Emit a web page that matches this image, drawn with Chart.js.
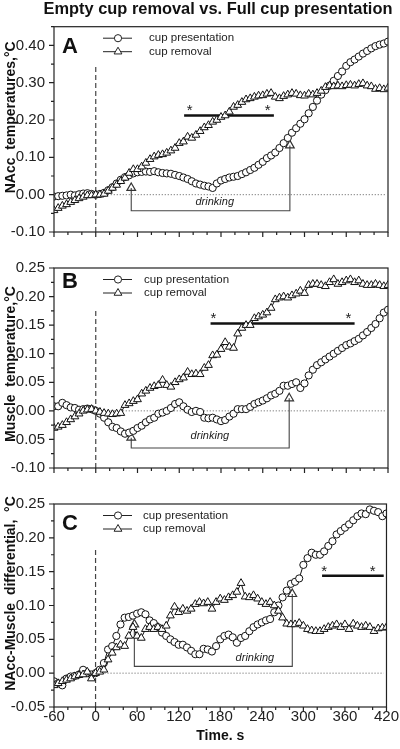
<!DOCTYPE html>
<html>
<head>
<meta charset="utf-8">
<script src="https://cdn.jsdelivr.net/npm/chart.js@4.4.1/dist/chart.umd.min.js"></script>
<style>
  html, body { margin: 0; padding: 0; background: #fff; }
  #wrap { position: relative; width: 400px; height: 749px; }
  canvas { position: absolute; left: 0; }
</style>
</head>
<body>
<div id="wrap">
  <canvas id="panelA" width="400" height="250" style="top:0px"></canvas>
  <canvas id="panelB" width="400" height="236" style="top:250px"></canvas>
  <canvas id="panelC" width="400" height="263" style="top:486px"></canvas>
</div>
<script>
// time bins, s
const times = [-60,-54,-48,-42,-36,-30,-24,-18,-12,-6,
  0,6,12,18,24,30,36,42,48,54,
  60,66,72,78,84,90,96,102,108,114,
  120,126,132,138,144,150,156,162,168,174,
  180,186,192,198,204,210,216,222,228,234,
  240,246,252,258,264,270,276,282,288,294,
  300,306,312,318,324,330,336,342,348,354,
  360,366,372,378,384,390,396,402,408,414,
  420];

// A: NAcc temperature
const presA = [-0.005,-0.004,-0.003,-0.002,0.000,-0.002,0.001,0.003,0.004,0.002,
  0.000,0.002,0.005,0.012,0.020,0.030,0.040,0.047,0.052,0.057,
  0.060,0.061,0.062,0.061,0.063,0.060,0.058,0.057,0.056,0.053,
  0.050,0.046,0.042,0.036,0.030,0.027,0.024,0.022,0.018,0.030,
  0.038,0.042,0.046,0.048,0.050,0.055,0.060,0.066,0.072,0.080,
  0.088,0.098,0.105,0.113,0.125,0.138,0.152,0.166,0.178,0.190,
  0.202,0.218,0.235,0.252,0.268,0.280,0.292,0.305,0.318,0.330,
  0.345,0.355,0.362,0.370,0.378,0.385,0.392,0.398,0.402,0.405,
  0.410];
const remA = [-0.042,-0.036,-0.030,-0.026,-0.020,-0.015,-0.010,-0.006,-0.002,-0.002,
  0.000,0.000,0.002,0.010,0.018,0.026,0.036,0.045,0.058,0.068,
  0.068,0.075,0.085,0.095,0.102,0.106,0.108,0.112,0.118,0.125,
  0.138,0.142,0.155,0.152,0.160,0.170,0.180,0.186,0.195,0.200,
  0.208,0.212,0.222,0.235,0.240,0.248,0.255,0.258,0.262,0.265,
  0.266,0.270,0.272,0.262,0.258,0.264,0.268,0.272,0.270,0.266,
  0.265,0.270,0.268,0.272,0.278,0.288,0.292,0.290,0.292,0.290,
  0.293,0.294,0.292,0.296,0.298,0.292,0.290,0.283,0.285,0.282,
  0.286];

// B: muscle temperature
const presB = [0.008,0.008,0.014,0.010,0.006,0.005,0.002,0.003,0.004,0.003,
  0.000,-0.005,-0.012,-0.020,-0.028,-0.030,-0.036,-0.040,-0.038,-0.035,
  -0.030,-0.026,-0.020,-0.015,-0.012,-0.005,-0.003,0.000,0.005,0.012,
  0.015,0.008,0.002,-0.002,0.000,-0.002,-0.012,-0.013,-0.012,-0.015,
  -0.018,-0.016,-0.010,-0.005,0.003,0.003,0.003,0.007,0.012,0.015,
  0.018,0.022,0.027,0.030,0.035,0.044,0.044,0.047,0.050,0.040,
  0.048,0.062,0.072,0.080,0.085,0.090,0.095,0.100,0.105,0.110,
  0.115,0.118,0.122,0.126,0.132,0.138,0.145,0.152,0.162,0.172,
  0.177];
const remB = [-0.030,-0.028,-0.025,-0.020,-0.015,-0.010,-0.005,0.000,0.002,0.003,
  0.000,-0.002,-0.004,-0.005,-0.006,-0.005,-0.004,0.010,0.013,0.017,
  0.020,0.030,0.035,0.040,0.043,0.045,0.054,0.045,0.042,0.050,
  0.055,0.058,0.068,0.064,0.065,0.064,0.075,0.080,0.097,0.098,
  0.108,0.120,0.112,0.110,0.135,0.145,0.150,0.150,0.162,0.165,
  0.168,0.172,0.180,0.195,0.198,0.200,0.198,0.202,0.205,0.210,
  0.206,0.220,0.222,0.222,0.220,0.218,0.225,0.230,0.222,0.225,
  0.228,0.230,0.225,0.228,0.222,0.220,0.220,0.222,0.220,0.218,
  0.220];

// C: NAcc-muscle differential
const presC = [-0.012,-0.015,-0.018,-0.008,-0.005,-0.004,-0.002,0.005,0.000,-0.002,
  0.000,0.005,0.015,0.035,0.040,0.055,0.072,0.082,0.083,0.085,
  0.088,0.090,0.087,0.078,0.074,0.068,0.060,0.055,0.050,0.046,
  0.042,0.042,0.038,0.033,0.028,0.028,0.036,0.035,0.032,0.040,
  0.050,0.055,0.057,0.053,0.045,0.052,0.055,0.062,0.068,0.072,
  0.075,0.078,0.080,0.090,0.100,0.112,0.122,0.132,0.135,0.140,
  0.160,0.170,0.178,0.175,0.175,0.180,0.188,0.195,0.205,0.210,
  0.215,0.220,0.226,0.232,0.236,0.235,0.242,0.240,0.238,0.232,
  0.236];
const remC = [-0.018,-0.015,-0.012,-0.010,-0.008,-0.005,-0.003,-0.002,0.002,-0.008,
  0.000,0.002,0.005,0.020,0.030,0.038,0.042,0.040,0.055,0.068,
  0.055,0.052,0.065,0.068,0.065,0.068,0.065,0.070,0.085,0.098,
  0.090,0.095,0.092,0.095,0.102,0.105,0.103,0.105,0.095,0.105,
  0.110,0.108,0.112,0.115,0.120,0.133,0.113,0.112,0.115,0.110,
  0.105,0.102,0.105,0.100,0.092,0.082,0.073,0.072,0.072,0.074,
  0.070,0.065,0.063,0.062,0.062,0.065,0.068,0.070,0.072,0.068,
  0.072,0.065,0.073,0.070,0.068,0.070,0.068,0.062,0.066,0.067,
  0.068];

// tick labels
const xTickLabels = [-60, 0, 60, 120, 180, 240, 300, 360, 420];
const yTicksA = [-0.10, 0.00, 0.10, 0.20, 0.30, 0.40];
const yTicksB = [-0.10, -0.05, 0.00, 0.05, 0.10, 0.15, 0.20, 0.25];
const yTicksC = [-0.05, 0.00, 0.05, 0.10, 0.15, 0.20, 0.25];

// drinking brackets [x start, x end], bar level, arrow tops
const drinkX = { A: [51, 279], B: [51, 278], C: [56, 284] };
const drinkBar = { A: -0.043, B: -0.065, C: 0.010 };
const drinkTop = { A: [0.018, 0.132], B: [-0.047, 0.022], C: [0.072, 0.117] };
// significance bars
const sigX = { A: [127, 256], B: [165, 372], C: [327, 416] };
const sigY = { A: 0.212, B: 0.153, C: 0.144 };

const FONT = "'Liberation Sans', Arial, Helvetica, sans-serif";
Chart.defaults.font.family = FONT;
Chart.defaults.color = '#222';

const near = (v, list) => list.some(t => Math.abs(v - t) < 1e-6);
const pts = (vals) => vals.map((v, i) => ({ x: times[i], y: v }));

const decor = {
  id: 'decor',
  afterDraw(chart, args, o) {
    const { ctx, chartArea: a, scales: { x, y } } = chart;
    ctx.save();
    ctx.strokeStyle = '#222';
    ctx.lineWidth = 1.2;
    ctx.strokeRect(a.left, a.top, a.right - a.left, a.bottom - a.top);
    ctx.beginPath();
    x.ticks.forEach(t => {
      const px = x.getPixelForValue(t.value);
      const len = near(t.value, xTickLabels) ? 5 : 3;
      ctx.moveTo(px, a.bottom); ctx.lineTo(px, a.bottom + len);
    });
    y.ticks.forEach(t => {
      const py = y.getPixelForValue(t.value);
      const len = near(t.value, o.yTicks) ? 5 : 3;
      ctx.moveTo(a.left, py); ctx.lineTo(a.left - len, py);
    });
    ctx.stroke();

    // axis title
    ctx.fillStyle = '#111';
    ctx.save();
    ctx.translate(11, (a.top + a.bottom) / 2 - o.titleShift);
    ctx.rotate(-Math.PI / 2);
    ctx.font = 'bold 14px ' + FONT;
    ctx.textAlign = 'center'; ctx.textBaseline = 'middle';
    ctx.fillText(o.yTitle, 0, 0);
    ctx.restore();

    // panel letter
    ctx.font = 'bold 22px ' + FONT;
    ctx.textAlign = 'left'; ctx.textBaseline = 'alphabetic';
    ctx.fillText(o.letter, a.left + 8, a.top + o.letterBase);

    // legend
    const lx = a.left + 49;
    const rows = [a.top + 11.5, a.top + 25];
    ctx.lineWidth = 1;
    rows.forEach((ly, i) => {
      ctx.beginPath(); ctx.moveTo(lx, ly); ctx.lineTo(lx + 29, ly); ctx.stroke();
      ctx.fillStyle = '#fff';
      ctx.beginPath();
      if (i === 0) {
        ctx.arc(lx + 15, ly, 3.6, 0, Math.PI * 2);
      } else {
        const r = 4.5;
        ctx.moveTo(lx + 15, ly - r);
        ctx.lineTo(lx + 15 + r * 0.866, ly + r / 2);
        ctx.lineTo(lx + 15 - r * 0.866, ly + r / 2);
        ctx.closePath();
      }
      ctx.fill(); ctx.stroke();
    });
    ctx.fillStyle = '#222';
    ctx.font = '11.5px ' + FONT;
    ctx.textBaseline = 'middle';
    ctx.fillText('cup presentation', a.left + o.legX, rows[0]);
    ctx.fillText('cup removal', a.left + o.legX, rows[1]);

    // drinking label and asterisks
    ctx.font = 'italic 11px ' + FONT;
    ctx.textAlign = 'center';
    ctx.fillText('drinking', x.getPixelForValue(o.drinkLabel[0]), y.getPixelForValue(o.drinkLabel[1]));
    ctx.font = '15px ' + FONT;
    ctx.textBaseline = 'alphabetic';
    o.stars.forEach(s => {
      ctx.fillText('*', x.getPixelForValue(s[0]), y.getPixelForValue(s[1]) + 8);
    });

    if (o.mainTitle) {
      ctx.fillStyle = '#111';
      ctx.font = 'bold 16.4px ' + FONT;
      ctx.textAlign = 'center'; ctx.textBaseline = 'middle';
      ctx.fillText(o.mainTitle, 218, 9);
    }
    ctx.restore();
  }
};

function panel(id, key, pres, rem, yMin, yMax, yStep, yTicks, o) {
  const isLast = key === 'C';
  const datasets = [
    {
      data: pts(rem), order: 0,
      borderColor: '#111', borderWidth: 1, pointStyle: 'triangle',
      pointRadius: 4.5, pointBorderWidth: 1, pointBackgroundColor: '#fff', pointBorderColor: '#111'
    },
    {
      data: pts(pres), order: 1,
      borderColor: '#111', borderWidth: 1, pointStyle: 'circle',
      pointRadius: 3.6, pointBorderWidth: 1, pointBackgroundColor: '#fff', pointBorderColor: '#111'
    },
    {
      data: [
        { x: drinkX[key][0], y: drinkTop[key][0] },
        { x: drinkX[key][0], y: drinkBar[key] },
        { x: drinkX[key][1], y: drinkBar[key] },
        { x: drinkX[key][1], y: drinkTop[key][1] }
      ], order: 2,
      borderColor: '#444', borderWidth: 1.1, pointStyle: 'triangle',
      pointRadius: c => (c.dataIndex === 0 || c.dataIndex === 3) ? 5 : 0,
      pointBorderWidth: 1.2, pointBorderColor: '#333', pointBackgroundColor: 'rgba(0,0,0,0)'
    },
    {
      data: [{ x: sigX[key][0], y: sigY[key] }, { x: sigX[key][1], y: sigY[key] }], order: 3,
      borderColor: '#111', borderWidth: 2.6, pointRadius: 0
    },
    {
      data: [{ x: 0, y: yMin }, { x: 0, y: o.dashTop }], order: 4,
      borderColor: '#444', borderWidth: 1.2, borderDash: [5, 3], pointRadius: 0
    },
    {
      data: [{ x: 0, y: 0 }, { x: 416, y: 0 }], order: 5,
      borderColor: '#333', borderWidth: 0.8, borderDash: [1, 2], pointRadius: 0
    }
  ];

  return new Chart(document.getElementById(id), {
    type: 'line',
    data: { datasets },
    options: {
      responsive: false,
      animation: false,
      devicePixelRatio: 1,
      events: [],
      layout: { padding: { top: o.padTop, right: 12, left: 0, bottom: 0 } },
      plugins: {
        legend: { display: false },
        tooltip: { enabled: false },
        decor: Object.assign({ yTicks }, o)
      },
      scales: {
        x: {
          type: 'linear', min: -60, max: 420,
          grid: { display: false, drawTicks: false },
          border: { display: false },
          ticks: {
            stepSize: 20, autoSkip: false, maxRotation: 0, padding: 1,
            font: { size: 15 }, color: '#222',
            callback: v => (isLast && near(v, xTickLabels)) ? String(v) : ''
          },
          title: {
            display: isLast, text: 'Time. s', color: '#111',
            font: { size: 14, weight: 'bold' }, padding: { top: 0, bottom: 4.6 }
          },
          afterFit: s => { s.height = o.xHeight; }
        },
        y: {
          type: 'linear', min: yMin, max: yMax,
          grid: { display: false, drawTicks: false },
          border: { display: false },
          ticks: {
            stepSize: yStep, autoSkip: false, padding: 9,
            font: { size: 15 }, color: '#222',
            callback: v => near(v, yTicks) ? (Math.abs(v) < 1e-9 ? 0 : v).toFixed(2) : ''
          },
          afterFit: s => { s.width = 54; }
        }
      }
    },
    plugins: [decor]
  });
}

panel('panelA', 'A', presA, remA, -0.10, 0.45, 0.05, yTicksA, {
  padTop: 26.7, xHeight: 13.3, letter: 'A', letterBase: 26.5, legX: 95,
  yTitle: 'NAcc  temperatures,°C', titleShift: 12, dashTop: 0.35,
  drinkLabel: [171, -0.019], stars: [[135, 0.235], [247, 0.235]],
  mainTitle: 'Empty cup removal vs. Full cup presentation'
});
panel('panelB', 'B', presB, remB, -0.10, 0.25, 0.025, yTicksB, {
  padTop: 11.7, xHeight: 14.3, letter: 'B', letterBase: 20, legX: 90,
  yTitle: 'Muscle  temperature,°C', titleShift: 4, dashTop: 0.18,
  drinkLabel: [164, -0.044], stars: [[169, 0.167], [363, 0.167]]
});
panel('panelC', 'C', presC, remC, -0.05, 0.25, 0.025, yTicksC, {
  padTop: 11, xHeight: 42, letter: 'C', letterBase: 26, legX: 89,
  yTitle: 'NAcc-Muscle  differential,  °C', titleShift: 12, dashTop: 0.185,
  drinkLabel: [230, 0.023], stars: [[330, 0.156], [400, 0.156]]
});
</script>
</body>
</html>
